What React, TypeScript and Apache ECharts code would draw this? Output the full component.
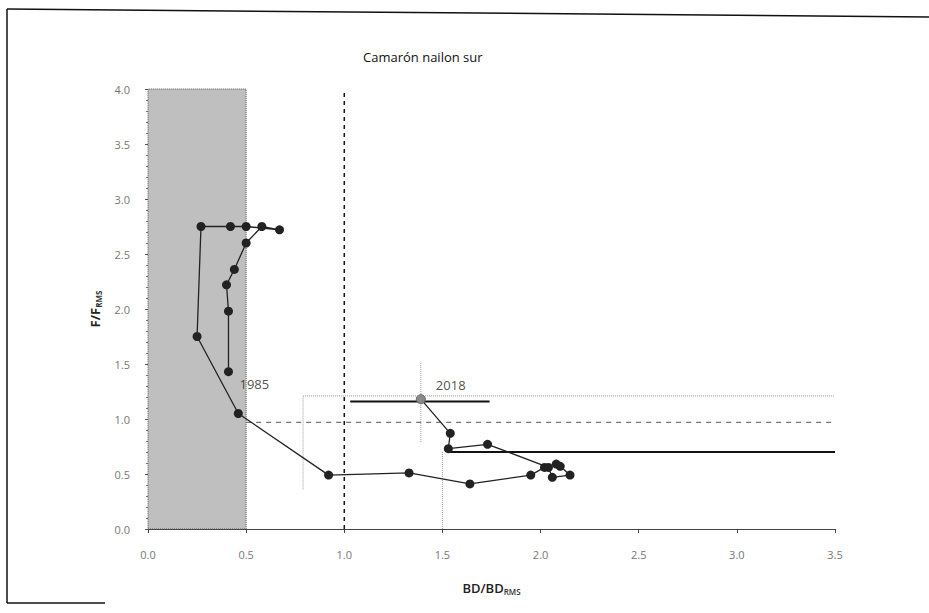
import React, { useEffect, useRef } from "react";
import * as echarts from "echarts";

// Trajectory BD/BD_RMS (x) vs F/F_RMS (y), in time order 1985 -> 2018
const trajX = [0.41, 0.41, 0.40, 0.44, 0.50, 0.58, 0.67, 0.50, 0.42, 0.27, 0.25, 0.46, 0.92, 1.33, 1.64, 1.95, 2.02, 2.08, 2.10, 2.15, 2.06, 2.04, 1.73, 1.53, 1.54, 1.39];
const trajY = [1.43, 1.98, 2.22, 2.36, 2.60, 2.75, 2.72, 2.75, 2.75, 2.75, 1.75, 1.05, 0.49, 0.51, 0.41, 0.49, 0.56, 0.59, 0.57, 0.49, 0.47, 0.56, 0.77, 0.73, 0.87, 1.18];

const yearLabels = ["1985", "2018"];
const yearX = [0.41, 1.39];
const yearY = [1.43, 1.18];

// reference lines
const limitX = [0, 0.5]; // shaded collapse zone
const limitY = [0, 4];
const vDashX = 1.0;
const hDashY = 0.97;
const hDashRange = [0.5, 3.5];
const solidUpper = { y: 1.16, x0: 1.03, x1: 1.74 };
const solidLower = { y: 0.70, x0: 1.53, x1: 3.5 };
const dotH = { y: 1.21, x0: 0.79, x1: 3.5 };
const dotV1 = { x: 0.79, y0: 0.36, y1: 1.21 };
const dotV2 = { x: 1.39, y0: 0.79, y1: 1.52 };
const dotV3 = { x: 1.5, y0: 0, y1: 0.7 };

const xTicks = { min: 0, max: 3.5, interval: 0.5 };
const yTicks = { min: 0, max: 4, interval: 0.5 };

export default function App() {
  const ref = useRef<HTMLDivElement>(null);
  useEffect(() => {
    if (!ref.current) return;
    const chart = echarts.init(ref.current, undefined, { renderer: "svg" });
    const font = "'Open Sans', 'DejaVu Sans', sans-serif";
    const seg = (pts: number[][], color: string, type: any, width: number, z = 2) => ({
      type: "line",
      data: pts,
      symbol: "none",
      silent: true,
      z,
      lineStyle: { color, type, width },
    });
    const last = trajX.length - 1;
    const traj = trajX.map((x, i) =>
      i === last
        ? { value: [x, trajY[i]], itemStyle: { color: "#8a8a8a", borderColor: "#666", borderWidth: 1 } }
        : [x, trajY[i]]
    );
    const labelOffsets = [[6, 12], [10, -14]];
    chart.setOption({
      animation: false,
      backgroundColor: "#ffffff",
      title: {
        text: "Camarón nailon sur",
        left: 358,
        top: 45,
        textStyle: { fontFamily: font, fontSize: 13, fontWeight: "normal", color: "#111" },
      },
      grid: { left: 148, right: 94, top: 89, bottom: 84 },
      xAxis: {
        type: "value",
        min: xTicks.min,
        max: xTicks.max,
        interval: xTicks.interval,
        name: "BD/BD{s|RMS}",
        nameLocation: "middle",
        nameGap: 52,
        nameTextStyle: {
          fontFamily: font,
          fontSize: 13,
          fontWeight: 600,
          color: "#222",
          rich: { s: { fontSize: 8, verticalAlign: "bottom", padding: [6, 0, 0, 0], fontFamily: font, color: "#333" } },
        },
        axisLine: { lineStyle: { color: "#444", width: 1 } },
        axisTick: { show: true, inside: false, length: 4, lineStyle: { color: "#444" } },
        axisLabel: { formatter: (v: number) => v.toFixed(1), color: "#777", fontFamily: font, fontSize: 11, margin: 20 },
        splitLine: { show: false },
      },
      yAxis: {
        type: "value",
        min: yTicks.min,
        max: yTicks.max,
        interval: yTicks.interval,
        name: "F/F{s|RMS}",
        nameLocation: "middle",
        nameGap: 46,
        nameTextStyle: {
          fontFamily: font,
          fontSize: 13,
          fontWeight: "bold",
          color: "#222",
          rich: { s: { fontSize: 8, verticalAlign: "bottom", padding: [6, 0, 0, 0], fontFamily: font, color: "#333" } },
        },
        axisLine: { show: true, lineStyle: { color: "#777", width: 1, type: "dotted" } },
        axisTick: { show: true, length: 3, lineStyle: { color: "#555" } },
        minorTick: { show: true, splitNumber: 5, length: 2, lineStyle: { color: "#777" } },
        axisLabel: { formatter: (v: number) => v.toFixed(1), color: "#777", fontFamily: font, fontSize: 11, margin: 18 },
        splitLine: { show: false },
      },
      graphic: [
        { type: "line", shape: { x1: 7, y1: 9, x2: 929, y2: 17 }, style: { stroke: "#111", lineWidth: 1.5 } },
        { type: "line", shape: { x1: 7, y1: 9, x2: 7, y2: 603 }, style: { stroke: "#111", lineWidth: 1.5 } },
        { type: "line", shape: { x1: 7, y1: 603, x2: 105, y2: 603 }, style: { stroke: "#111", lineWidth: 1.5 } },
      ],
      series: [
        {
          type: "line",
          data: [],
          silent: true,
          z: 1,
          markArea: {
            silent: true,
            itemStyle: { color: "#bfbfbf", borderColor: "#555", borderWidth: 1, borderType: "dotted" },
            data: [[{ coord: [limitX[0], limitY[0]] }, { coord: [limitX[1], limitY[1]] }]],
          },
        },
        seg([[hDashRange[0], hDashY], [hDashRange[1], hDashY]], "#555", [5, 5], 1),
        seg([[vDashX, limitY[0]], [vDashX, limitY[1]]], "#111", [4, 4], 1.5),
        seg([[dotH.x0, dotH.y], [dotH.x1, dotH.y]], "#999", "dotted", 1),
        seg([[dotV1.x, dotV1.y0], [dotV1.x, dotV1.y1]], "#999", "dotted", 1),
        seg([[dotV2.x, dotV2.y0], [dotV2.x, dotV2.y1]], "#999", "dotted", 1),
        seg([[dotV3.x, dotV3.y0], [dotV3.x, dotV3.y1]], "#999", "dotted", 1),
        seg([[solidUpper.x0, solidUpper.y], [solidUpper.x1, solidUpper.y]], "#111", "solid", 2),
        seg([[solidLower.x0, solidLower.y], [solidLower.x1, solidLower.y]], "#111", "solid", 2),
        {
          type: "line",
          data: traj,
          z: 5,
          symbol: "circle",
          symbolSize: 9,
          lineStyle: { color: "#222", width: 1.3 },
          itemStyle: { color: "#222" },
        },
        {
          type: "scatter",
          data: yearX.map((x, i) => ({
            value: [x, yearY[i]],
            name: yearLabels[i],
            label: { offset: labelOffsets[i] },
          })),
          symbolSize: 0,
          z: 6,
          label: {
            show: true,
            formatter: (p: any) => p.name,
            position: "right",
            fontFamily: font,
            fontSize: 13,
            color: "#222",
          },
        },
      ],
    });
    return () => chart.dispose();
  }, []);
  return <div ref={ref} style={{ position: "absolute", left: 0, top: 0, width: 929, height: 613 }} />;
}
